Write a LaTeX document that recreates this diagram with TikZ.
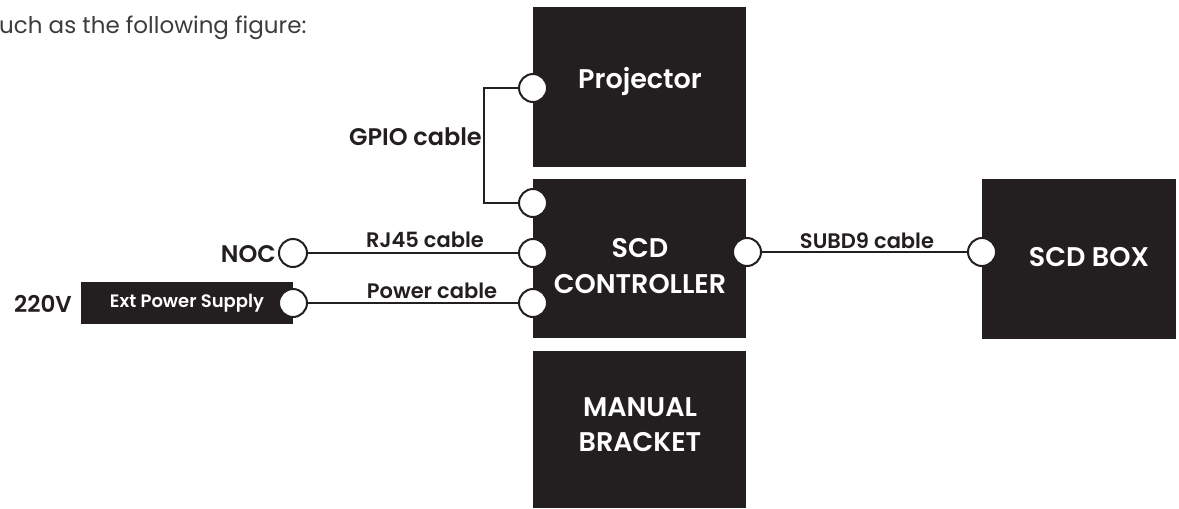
\documentclass[tikz,border=0pt]{standalone}
\usepackage{fontspec}
\setmainfont{Poppins}[BoldFont={Poppins SemiBold}]
\definecolor{ink}{HTML}{231F20}
\definecolor{grayink}{HTML}{3C3C3C}
\begin{document}
\begin{tikzpicture}[x=1pt,y=-1pt,
  blk/.style={fill=ink,draw=none,inner sep=0pt},
  port/.style={circle,fill=white,draw=ink,line width=2pt,minimum size=28pt,inner sep=0pt},
  wire/.style={draw=ink,line width=2pt},
  big/.style={text=white,font=\bfseries\fontsize{27}{35}\selectfont,align=center,inner sep=0pt},
  lbl/.style={text=ink,font=\bfseries\fontsize{21}{24}\selectfont,inner sep=0pt,anchor=base}]
\useasboundingbox (0,0) rectangle (1179,509);
% boxes
\node[blk,minimum width=213pt,minimum height=160pt] (proj) at (639.5,87) {};
\node[blk,minimum width=213pt,minimum height=159pt] (ctrl) at (639.5,258.5) {};
\node[blk,minimum width=213pt,minimum height=157pt] (brk) at (639.5,429.5) {};
\node[blk,minimum width=194pt,minimum height=160pt] (box) at (1079,259) {};
\node[blk,minimum width=212pt,minimum height=42pt] (ext) at (187,303) {};
% box texts
\node[big,anchor=base] (tproj) at (640,88) {Projector};
\node[big,anchor=base] (tscd) at (640,257) {SCD};
\node[big,anchor=base] (tctrl) at (640,293) {CONTROLLER};
\node[big,anchor=base] (tbox) at (1089,266) {SCD BOX};
\node[big,anchor=base] (tman) at (640,416) {MANUAL};
\node[big,anchor=base] (tbrk) at (640,451) {BRACKET};
\node[text=white,font=\bfseries\fontsize{18}{20}\selectfont,inner sep=0pt,anchor=base] (text) at (187,307) {Ext Power Supply};
% ports
\node[port] (pp) at (533,88) {};
\node[port] (cg) at (533,203) {};
\node[port] (cr) at (533,253) {};
\node[port] (cp) at (533,303) {};
\node[port] (noc) at (293,253) {};
\node[port] (ep) at (293,303) {};
\node[port] (cs) at (747,252) {};
\node[port] (bs) at (982,252) {};
% wires
\draw[wire] (pp.west) -- ++(-34,0) coordinate (gk) |- (cg.west);
\draw[wire] (noc) -- (cr);
\draw[wire] (ep) -- (cp);
\draw[wire] (cs) -- (bs);
% labels
\node[lbl,anchor=base east,font=\bfseries\fontsize{24}{26}\selectfont] (lg) at (482,145) {GPIO cable};
\node[lbl] (lr) at (425,247) {RJ45 cable};
\node[lbl] (lp) at (432,298) {Power cable};
\node[lbl] (ls) at (867,248) {SUBD9 cable};
\node[lbl,anchor=base east,font=\bfseries\fontsize{24}{26}\selectfont] (lnoc) at (276,262) {NOC};
\node[lbl,anchor=base west,font=\bfseries\fontsize{23}{25}\selectfont] (l220) at (14,312) {220V};
\node[text=grayink,font=\fontsize{23}{26}\selectfont,inner sep=0pt,anchor=base west] (top) at (-1,33) {uch as the following figure:};
\end{tikzpicture}
\end{document}
